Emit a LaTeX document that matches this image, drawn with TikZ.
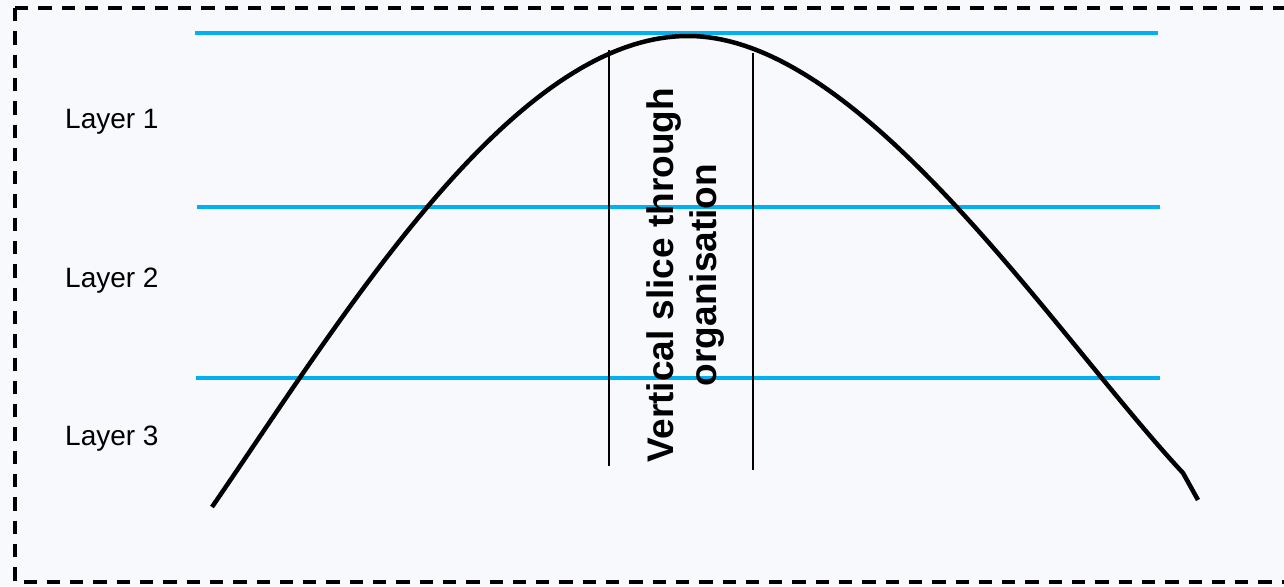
\documentclass[tikz,border=0pt]{standalone}
\usepackage{fontspec}
\setmainfont{Liberation Sans}
\definecolor{bgc}{HTML}{F7F9FD}
\definecolor{layerblue}{HTML}{00B0F0}
\begin{document}
\begin{tikzpicture}[x=1pt,y=-1pt,
  layerline/.style={draw=layerblue,line width=4.5pt},
  slice/.style={draw=black,line width=1.6pt},
  layerlabel/.style={font=\fontsize{28}{32}\selectfont,anchor=west,inner sep=0pt},
  curve/.style={draw=black,line width=4.5pt}]
\fill[bgc] (0,0) rectangle (1284,586);
\useasboundingbox (0,0) rectangle (1284,586);
\begin{scope}
\clip (0,0) rectangle (1284,586);
\draw[line width=3.5pt,dash pattern=on 13.3pt off 10pt] (15,8) rectangle (1300,582);
\end{scope}
% layer lines
\coordinate (l1a) at (195,33); \coordinate (l1b) at (1158,33);
\coordinate (l2a) at (197,207); \coordinate (l2b) at (1160,207);
\coordinate (l3a) at (196,378); \coordinate (l3b) at (1160,378);
\draw[layerline] (l1a) -- (l1b);
\draw[layerline] (l2a) -- (l2b);
\draw[layerline] (l3a) -- (l3b);
% curve
\coordinate (cs) at (212,507);
\coordinate (cp) at (688,36);
\coordinate (ce) at (1183,473);
\coordinate (cf) at (1198,500);
\draw[curve] (cs) .. controls (342,318) and (512,36) .. (cp)
  .. controls (862,36) and (1053,333) .. (ce) -- (cf);
% slice lines
\coordinate (s1a) at (609,50); \coordinate (s1b) at (609,466);
\coordinate (s2a) at (753,53); \coordinate (s2b) at (753,470);
\draw[slice] (s1a) -- (s1b);
\draw[slice] (s2a) -- (s2b);
% labels
\node[layerlabel] (lay1) at (65,122) {Layer 1};
\node[layerlabel] (lay2) at (65,281) {Layer 2};
\node[layerlabel] (lay3) at (65,439) {Layer 3};
\node[rotate=90,align=center,inner sep=0pt,font=\bfseries\fontsize{37}{43}\selectfont] (vs) at (686,275) {Vertical slice through\\organisation};
\end{tikzpicture}
\end{document}
